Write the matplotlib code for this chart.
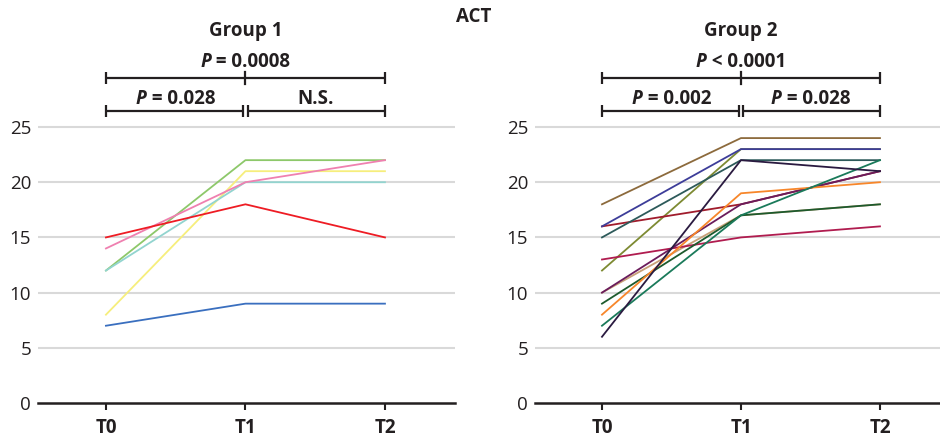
import matplotlib
matplotlib.use("Agg")
import matplotlib.pyplot as plt
from matplotlib.offsetbox import TextArea, HPacker, AnnotationBbox

plt.rcParams['font.family'] = ['Open Sans', 'DejaVu Sans']

timepoints = ["T0", "T1", "T2"]
yticks = [0, 5, 10, 15, 20, 25]

g1_values = [
    [7, 9, 9],
    [8, 21, 21],
    [12, 22, 22],
    [12, 20, 20],
    [14, 20, 22],
    [15, 18, 15],
]
g1_colors = ["#3a6fbf", "#f6ee7c", "#8dc86a", "#92d4cf", "#ef80b0", "#ee1c24"]

g2_values = [
    [12, 23, 23],
    [16, 18, 21],
    [10, 17, 18],
    [18, 24, 24],
    [16, 23, 23],
    [15, 22, 22],
    [13, 15, 16],
    [10, 18, 21],
    [9, 17, 18],
    [8, 19, 20],
    [7, 17, 22],
    [6, 22, 21],
]
g2_colors = ["#7d8a32", "#a01c2c", "#c8a078", "#8c6a3c", "#3d3d99", "#2d5a5a",
             "#b01c4f", "#6a1c5c", "#1d5a2d", "#f7862a", "#1a7a5a", "#2a1a40"]

panel_titles = ["Group 1", "Group 2"]
overall_title = "ACT"
top_labels = [("P", " = 0.0008"), ("P", " < 0.0001")]
low_left_labels = [("P", " = 0.028"), ("P", " = 0.002")]
low_right_labels = [(None, "N.S."), ("P", " = 0.028")]

fig = plt.figure(figsize=(9.4, 4.37), dpi=100)
W, H = 940, 437
ax_bottom_px, ax_top_px = 403, 116
ylim_top = 26
axes_specs = [(38, 455), (535, 940)]
xlims = [(-0.487, 2.502), (-0.482, 2.432)]

def ptext(ax, x, y, parts, size=13.5):
    p, rest = parts
    children = []
    if p is not None:
        children.append(TextArea(p, textprops=dict(fontsize=size, fontweight='bold', fontstyle='italic', color='#231f20')))
    children.append(TextArea(rest, textprops=dict(fontsize=size, fontweight='bold', color='#231f20')))
    box = HPacker(children=children, align="baseline", pad=0, sep=0)
    ab = AnnotationBbox(box, (x, y), xycoords='data', frameon=False, box_alignment=(0.5, 0.5),
                        annotation_clip=False)
    ax.add_artist(ab)

def bracket(ax, x0, x1, y, cap=0.55):
    ax.plot([x0, x1], [y, y], color='#231f20', lw=1.6, clip_on=False, solid_capstyle='butt')
    ax.plot([x0, x0], [y - cap, y + cap], color='#231f20', lw=1.6, clip_on=False, solid_capstyle='butt')
    ax.plot([x1, x1], [y - cap, y + cap], color='#231f20', lw=1.6, clip_on=False, solid_capstyle='butt')

datasets = [(g1_values, g1_colors), (g2_values, g2_colors)]
for i, ((l, r), (vals, cols)) in enumerate(zip(axes_specs, datasets)):
    ax = fig.add_axes([l / W, (H - ax_bottom_px) / H, (r - l) / W, (ax_bottom_px - ax_top_px) / H])
    xs = list(range(len(timepoints)))
    for v, c in zip(vals, cols):
        ax.plot(xs, v, color=c, lw=1.3, zorder=3)
    ax.set_ylim(0, ylim_top)
    ax.set_xlim(*xlims[i])
    ax.set_yticks(yticks)
    ax.set_yticklabels([str(t) for t in yticks], fontsize=13.5, color='#231f20')
    ax.set_xticks(xs)
    ax.set_xticklabels(timepoints, fontsize=13.5, fontweight='bold', color='#231f20')
    ax.tick_params(axis='y', length=0, pad=5)
    ax.tick_params(axis='x', length=5, width=1.5, color='#231f20', pad=6)
    for s in ['left', 'right', 'top']:
        ax.spines[s].set_visible(False)
    ax.spines['bottom'].set_linewidth(1.8)
    ax.spines['bottom'].set_color('#231f20')
    for t in yticks[1:]:
        ax.axhline(t, color='#d9d9d9', lw=1.5, zorder=1)
    ax.set_facecolor('white')

    y_top = (ax_bottom_px - 78) / 11.04
    y_low = (ax_bottom_px - 111) / 11.04
    bracket(ax, 0, 2, y_top)
    ax.plot([1, 1], [y_top - 0.55, y_top + 0.55], color='#231f20', lw=1.6, clip_on=False)
    bracket(ax, 0, 0.985, y_low)
    bracket(ax, 1.015, 2, y_low)
    ptext(ax, 1, (ax_bottom_px - 62) / 11.04, top_labels[i])
    ptext(ax, 0.5, (ax_bottom_px - 99) / 11.04, low_left_labels[i])
    ptext(ax, 1.5, (ax_bottom_px - 99) / 11.04, low_right_labels[i])
    ax.text(1, (ax_bottom_px - 31) / 11.04, panel_titles[i], ha='center', va='center',
            fontsize=13.5, fontweight='bold', color='#231f20', clip_on=False)

fig.text(474 / W, 1 - 17 / H, overall_title, ha='center', va='center', fontsize=13.5,
         fontweight='bold', color='#231f20')

fig.savefig("out.png", dpi=100, facecolor='white')
